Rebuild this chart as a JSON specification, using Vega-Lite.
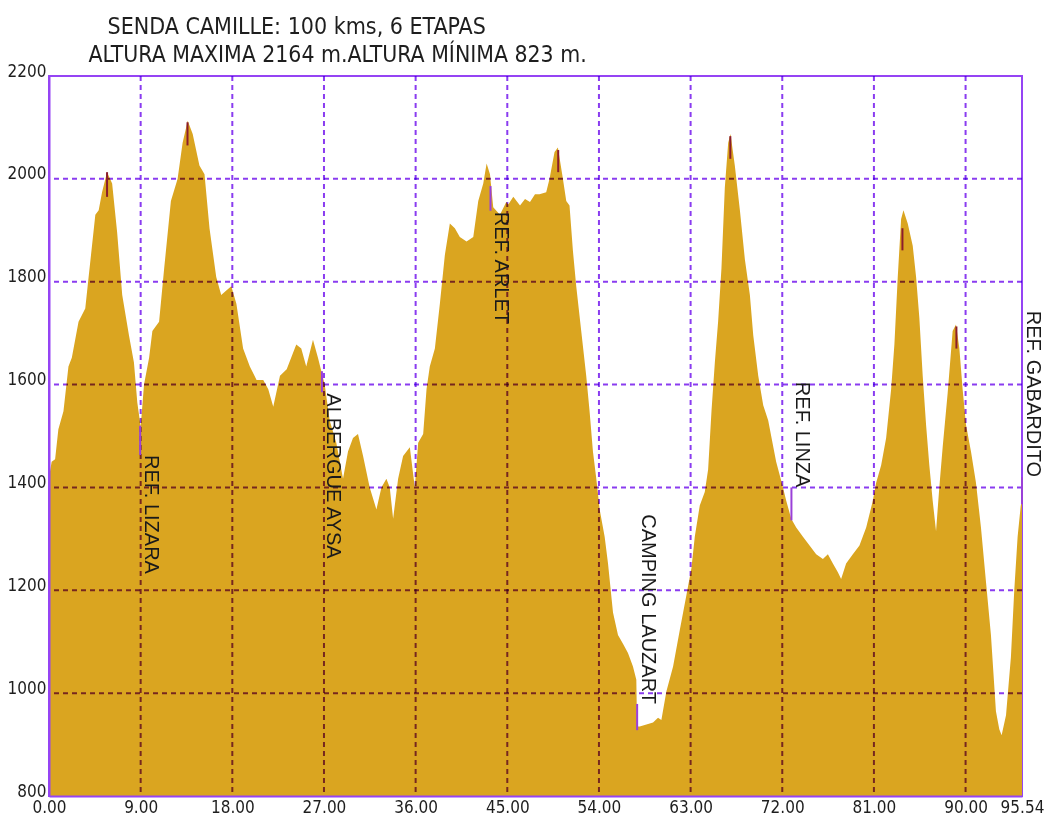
{
  "$schema": "https://vega.github.io/schema/vega-lite/v6.json",
  "autosize": "none",
  "width": 973,
  "height": 720,
  "padding": {"top": 76, "left": 49, "right": 24, "bottom": 27},
  "background": "white",
  "config": {
    "view": {"stroke": "#9544F4", "strokeWidth": 2},
    "axis": {"labelFont": "DejaVu Sans Condensed", "titleFont": "DejaVu Sans Condensed"}
  },
  "datasets": {
    "profile": [
      {"km": 0, "elev": 1420}, {"km": 0.26, "elev": 1450}, {"km": 0.6, "elev": 1455}, {"km": 0.92, "elev": 1513},
      {"km": 1.42, "elev": 1548}, {"km": 1.91, "elev": 1635}, {"km": 2.24, "elev": 1652}, {"km": 2.9, "elev": 1722},
      {"km": 3.56, "elev": 1748}, {"km": 3.89, "elev": 1809}, {"km": 4.55, "elev": 1930}, {"km": 4.88, "elev": 1939},
      {"km": 5.21, "elev": 1974}, {"km": 5.7, "elev": 2013}, {"km": 6.2, "elev": 1991}, {"km": 6.69, "elev": 1896},
      {"km": 7.19, "elev": 1774}, {"km": 7.85, "elev": 1696}, {"km": 8.34, "elev": 1643}, {"km": 8.67, "elev": 1565},
      {"km": 9.0, "elev": 1518}, {"km": 9.33, "elev": 1600}, {"km": 9.83, "elev": 1652}, {"km": 10.15, "elev": 1704},
      {"km": 10.81, "elev": 1722}, {"km": 11.31, "elev": 1826}, {"km": 11.97, "elev": 1957}, {"km": 12.63, "elev": 2000},
      {"km": 13.12, "elev": 2070}, {"km": 13.62, "elev": 2113}, {"km": 14.11, "elev": 2087}, {"km": 14.77, "elev": 2026},
      {"km": 15.27, "elev": 2009}, {"km": 15.76, "elev": 1904}, {"km": 16.42, "elev": 1809}, {"km": 16.91, "elev": 1774},
      {"km": 17.41, "elev": 1783}, {"km": 17.9, "elev": 1791}, {"km": 18.4, "elev": 1757}, {"km": 19.06, "elev": 1670},
      {"km": 19.72, "elev": 1635}, {"km": 20.38, "elev": 1609}, {"km": 21.04, "elev": 1609}, {"km": 21.53, "elev": 1591},
      {"km": 22.02, "elev": 1557}, {"km": 22.68, "elev": 1617}, {"km": 23.34, "elev": 1630}, {"km": 24.28, "elev": 1678},
      {"km": 24.77, "elev": 1670}, {"km": 25.26, "elev": 1635}, {"km": 25.92, "elev": 1687}, {"km": 26.41, "elev": 1652},
      {"km": 26.74, "elev": 1626}, {"km": 27.07, "elev": 1600}, {"km": 27.56, "elev": 1530}, {"km": 28.21, "elev": 1487},
      {"km": 28.87, "elev": 1417}, {"km": 29.36, "elev": 1470}, {"km": 29.85, "elev": 1496}, {"km": 30.34, "elev": 1504},
      {"km": 30.84, "elev": 1461}, {"km": 31.49, "elev": 1400}, {"km": 32.15, "elev": 1357}, {"km": 32.64, "elev": 1400},
      {"km": 33.13, "elev": 1417}, {"km": 33.46, "elev": 1400}, {"km": 33.79, "elev": 1339}, {"km": 34.28, "elev": 1417},
      {"km": 34.77, "elev": 1461}, {"km": 35.43, "elev": 1478}, {"km": 35.92, "elev": 1400}, {"km": 36.25, "elev": 1487},
      {"km": 36.74, "elev": 1504}, {"km": 37.07, "elev": 1591}, {"km": 37.39, "elev": 1635}, {"km": 37.89, "elev": 1670},
      {"km": 38.38, "elev": 1757}, {"km": 38.87, "elev": 1852}, {"km": 39.36, "elev": 1913}, {"km": 39.85, "elev": 1904},
      {"km": 40.34, "elev": 1887}, {"km": 41.0, "elev": 1878}, {"km": 41.66, "elev": 1887}, {"km": 42.15, "elev": 1957},
      {"km": 42.64, "elev": 1991}, {"km": 42.97, "elev": 2030}, {"km": 43.3, "elev": 2009}, {"km": 43.62, "elev": 1945},
      {"km": 44.28, "elev": 1930}, {"km": 44.9, "elev": 1955}, {"km": 45.1, "elev": 1950}, {"km": 45.59, "elev": 1965},
      {"km": 46.25, "elev": 1948}, {"km": 46.74, "elev": 1961}, {"km": 47.23, "elev": 1955}, {"km": 47.72, "elev": 1970},
      {"km": 48.16, "elev": 1970}, {"km": 48.82, "elev": 1974}, {"km": 49.15, "elev": 2000}, {"km": 49.64, "elev": 2052},
      {"km": 49.97, "elev": 2061}, {"km": 50.46, "elev": 2000}, {"km": 50.79, "elev": 1957}, {"km": 51.11, "elev": 1948},
      {"km": 51.44, "elev": 1861}, {"km": 51.77, "elev": 1791}, {"km": 52.26, "elev": 1704}, {"km": 52.75, "elev": 1617},
      {"km": 53.08, "elev": 1548}, {"km": 53.41, "elev": 1470}, {"km": 53.74, "elev": 1417}, {"km": 54.07, "elev": 1357},
      {"km": 54.56, "elev": 1304}, {"km": 54.89, "elev": 1252}, {"km": 55.38, "elev": 1157}, {"km": 55.87, "elev": 1113},
      {"km": 56.36, "elev": 1096}, {"km": 56.85, "elev": 1078}, {"km": 57.34, "elev": 1052}, {"km": 57.67, "elev": 1026},
      {"km": 57.74, "elev": 935}, {"km": 58.0, "elev": 935}, {"km": 58.66, "elev": 939}, {"km": 59.31, "elev": 943},
      {"km": 59.8, "elev": 952}, {"km": 60.13, "elev": 948}, {"km": 60.62, "elev": 1003}, {"km": 61.28, "elev": 1052},
      {"km": 61.93, "elev": 1122}, {"km": 62.59, "elev": 1191}, {"km": 63.08, "elev": 1243}, {"km": 63.41, "elev": 1304},
      {"km": 63.9, "elev": 1365}, {"km": 64.39, "elev": 1391}, {"km": 64.72, "elev": 1435}, {"km": 65.05, "elev": 1548},
      {"km": 65.38, "elev": 1643}, {"km": 65.7, "elev": 1722}, {"km": 66.03, "elev": 1826}, {"km": 66.36, "elev": 1983},
      {"km": 66.69, "elev": 2070}, {"km": 66.92, "elev": 2087}, {"km": 67.34, "elev": 2026}, {"km": 67.84, "elev": 1939},
      {"km": 68.33, "elev": 1843}, {"km": 68.82, "elev": 1774}, {"km": 69.15, "elev": 1696}, {"km": 69.64, "elev": 1617},
      {"km": 70.13, "elev": 1560}, {"km": 70.62, "elev": 1530}, {"km": 70.95, "elev": 1496}, {"km": 71.4, "elev": 1450},
      {"km": 72.0, "elev": 1405}, {"km": 72.39, "elev": 1374}, {"km": 72.88, "elev": 1339}, {"km": 73.37, "elev": 1322},
      {"km": 74.03, "elev": 1304}, {"km": 74.68, "elev": 1287}, {"km": 75.33, "elev": 1270}, {"km": 75.99, "elev": 1261},
      {"km": 76.48, "elev": 1270}, {"km": 76.97, "elev": 1252}, {"km": 77.46, "elev": 1235}, {"km": 77.78, "elev": 1222},
      {"km": 78.27, "elev": 1252}, {"km": 78.93, "elev": 1270}, {"km": 79.58, "elev": 1287}, {"km": 80.24, "elev": 1322},
      {"km": 80.89, "elev": 1374}, {"km": 81.22, "elev": 1409}, {"km": 81.71, "elev": 1443}, {"km": 82.2, "elev": 1496},
      {"km": 82.69, "elev": 1591}, {"km": 83.01, "elev": 1678}, {"km": 83.34, "elev": 1809}, {"km": 83.67, "elev": 1922},
      {"km": 83.9, "elev": 1939}, {"km": 84.32, "elev": 1913}, {"km": 84.81, "elev": 1870}, {"km": 85.14, "elev": 1809},
      {"km": 85.46, "elev": 1730}, {"km": 85.79, "elev": 1617}, {"km": 86.12, "elev": 1522}, {"km": 86.44, "elev": 1443},
      {"km": 86.77, "elev": 1374}, {"km": 87.1, "elev": 1315}, {"km": 87.42, "elev": 1400}, {"km": 87.75, "elev": 1478},
      {"km": 88.24, "elev": 1583}, {"km": 88.73, "elev": 1704}, {"km": 89.06, "elev": 1717}, {"km": 89.39, "elev": 1670},
      {"km": 89.71, "elev": 1591}, {"km": 90.04, "elev": 1522}, {"km": 90.53, "elev": 1470}, {"km": 91.02, "elev": 1409},
      {"km": 91.51, "elev": 1322}, {"km": 92.0, "elev": 1217}, {"km": 92.49, "elev": 1113}, {"km": 92.98, "elev": 965},
      {"km": 93.31, "elev": 930}, {"km": 93.54, "elev": 918}, {"km": 93.97, "elev": 957}, {"km": 94.45, "elev": 1070},
      {"km": 94.78, "elev": 1200}, {"km": 95.11, "elev": 1304}, {"km": 95.42, "elev": 1365}, {"km": 95.54, "elev": 1370}
    ],
    "gridX": [{"km": 9}, {"km": 18}, {"km": 27}, {"km": 36}, {"km": 45}, {"km": 54}, {"km": 63}, {"km": 72}, {"km": 81}, {"km": 90}],
    "gridY": [{"elev": 1000}, {"elev": 1200}, {"elev": 1400}, {"elev": 1600}, {"elev": 1800}, {"elev": 2000}],
    "labelMarkers": [
      {"km": 8.95, "top": 1520, "bottom": 1463},
      {"km": 26.8, "top": 1626, "bottom": 1585},
      {"km": 43.35, "top": 1986, "bottom": 1938},
      {"km": 57.75, "top": 979, "bottom": 928},
      {"km": 72.9, "top": 1400, "bottom": 1336},
      {"km": 95.54, "top": 1420, "bottom": 1368}
    ],
    "peakMarkers": [
      {"km": 5.7, "top": 2013, "bottom": 1965},
      {"km": 13.6, "top": 2110, "bottom": 2065},
      {"km": 50.0, "top": 2056, "bottom": 2013},
      {"km": 66.9, "top": 2083, "bottom": 2039},
      {"km": 83.8, "top": 1904, "bottom": 1861},
      {"km": 89.1, "top": 1713, "bottom": 1670}
    ],
    "labels": [
      {"name": "REF. LIZARA", "km": 8.95, "elev": 1463, "side": "below"},
      {"name": "ALBERGUE AYSA", "km": 26.8, "elev": 1583, "side": "below"},
      {"name": "REF. ARLET", "km": 43.35, "elev": 1936, "side": "below"},
      {"name": "CAMPING LAUZART", "km": 57.75, "elev": 979, "side": "above"},
      {"name": "REF. LINZA", "km": 72.9, "elev": 1400, "side": "above"},
      {"name": "REF. GABARDITO", "km": 95.54, "elev": 1420, "side": "above"}
    ]
  },
  "layer": [
    {
      "data": {"name": "profile"},
      "mark": {"type": "area", "color": "#DAA520", "clip": true, "interpolate": "linear"},
      "encoding": {
        "x": {
          "field": "km", "type": "quantitative",
          "scale": {"domain": [0, 95.54], "nice": false, "zero": false},
          "axis": {
            "values": [0, 9, 18, 27, 36, 45, 54, 63, 72, 81, 90, 95.54],
            "format": ".2f",
            "labelFontSize": 17, "labelColor": "#1e1e1e", "labelPadding": 3,
            "labelFlush": false, "labelOverlap": false, "labelBaseline": "top",
            "ticks": false,
            "domain": true, "domainColor": "#9544F4", "domainWidth": 2,
            "grid": false,
            "zindex": 1,
            "title": "ALTURA MAXIMA 2164 m.ALTURA MÍNIMA 823 m.",
            "titleFontSize": 22.8, "titleFontWeight": "normal", "titleColor": "#1e1e1e",
            "titleAlign": "left", "titleBaseline": "alphabetic", "titleAngle": 0,
            "titleX": 39, "titleY": -735
          }
        },
        "y": {
          "field": "elev", "type": "quantitative",
          "scale": {"domain": [800, 2200], "nice": false, "zero": false},
          "axis": {
            "values": [800, 1000, 1200, 1400, 1600, 1800, 2000, 2200],
            "format": "d",
            "labelFontSize": 17, "labelColor": "#1e1e1e", "labelPadding": 3,
            "labelBaseline": "alphabetic", "labelFlush": false, "labelOverlap": false,
            "ticks": false,
            "domain": true, "domainColor": "#9544F4", "domainWidth": 2,
            "grid": false,
            "zindex": 1,
            "title": "SENDA CAMILLE: 100 kms, 6 ETAPAS",
            "titleFontSize": 23, "titleFontWeight": "normal", "titleColor": "#1e1e1e",
            "titleAlign": "left", "titleBaseline": "alphabetic", "titleAngle": 0,
            "titleX": 58, "titleY": -43
          }
        }
      }
    },
    {
      "data": {"name": "gridX"},
      "mark": {"type": "rule", "color": "#8A3CF0", "strokeWidth": 2, "strokeDash": [5, 4], "blend": "multiply"},
      "encoding": {"x": {"field": "km", "type": "quantitative"}}
    },
    {
      "data": {"name": "gridY"},
      "mark": {"type": "rule", "color": "#8A3CF0", "strokeWidth": 2, "strokeDash": [5, 4], "blend": "multiply"},
      "encoding": {"y": {"field": "elev", "type": "quantitative"}}
    },
    {
      "data": {"name": "peakMarkers"},
      "mark": {"type": "rule", "color": "#8B1C2C", "strokeWidth": 2},
      "encoding": {
        "x": {"field": "km", "type": "quantitative"},
        "y": {"field": "top", "type": "quantitative"},
        "y2": {"field": "bottom"}
      }
    },
    {
      "data": {"name": "labelMarkers"},
      "mark": {"type": "rule", "color": "#9A40D8", "strokeWidth": 2},
      "encoding": {
        "x": {"field": "km", "type": "quantitative"},
        "y": {"field": "top", "type": "quantitative"},
        "y2": {"field": "bottom"}
      }
    },
    {
      "data": {"name": "labels"},
      "transform": [{"filter": "datum.side == 'below'"}],
      "mark": {"type": "text", "angle": 90, "align": "left", "baseline": "bottom", "font": "Liberation Sans", "fontSize": 20, "color": "#1a1a1a", "dy": -1},
      "encoding": {
        "x": {"field": "km", "type": "quantitative"},
        "y": {"field": "elev", "type": "quantitative"},
        "text": {"field": "name"}
      }
    },
    {
      "data": {"name": "labels"},
      "transform": [{"filter": "datum.side == 'above'"}],
      "mark": {"type": "text", "angle": 90, "align": "right", "baseline": "bottom", "font": "Liberation Sans", "fontSize": 20, "color": "#1a1a1a", "dy": -1},
      "encoding": {
        "x": {"field": "km", "type": "quantitative"},
        "y": {"field": "elev", "type": "quantitative"},
        "text": {"field": "name"}
      }
    }
  ]
}
